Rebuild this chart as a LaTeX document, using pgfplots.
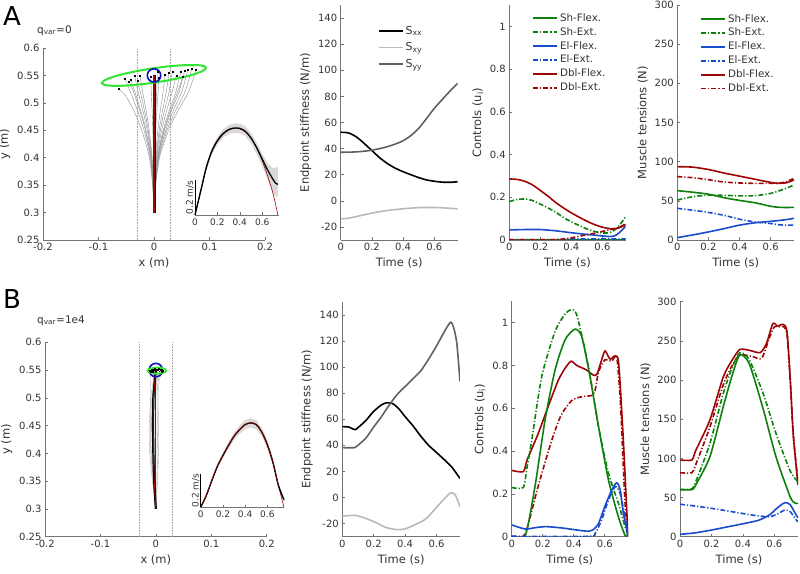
\documentclass[border=0pt]{standalone}
\usepackage{pgfplots}
\pgfplotsset{compat=1.18}
\usepackage{fontspec}
\setmainfont{DejaVu Sans}
\definecolor{cgreen}{rgb}{0.05,0.5,0.05}
\definecolor{cblue}{rgb}{0.1,0.3,0.8}
\definecolor{cred}{rgb}{0.62,0.02,0.02}
\definecolor{egreen}{rgb}{0.2,0.9,0.2}
\definecolor{eblue}{rgb}{0.05,0.05,0.75}
\definecolor{axgray}{gray}{0.45}
\definecolor{txgray}{gray}{0.2}
\pgfplotsset{
  myax/.style={
    scale only axis, anchor=south west,
    axis x line*=bottom, axis y line*=left,
    axis line style={draw=axgray, line width=0.6pt},
    tick align=inside, major tick length=3pt,
    tick style={draw=axgray, line width=0.5pt},
    tick label style={font=\fontsize{10}{12}\selectfont, text=txgray},
    label style={font=\fontsize{11.5}{13}\selectfont, text=txgray},
    /pgf/number format/assume math mode=true,
    legend cell align=left,
    legend style={draw=none, fill=none, font=\fontsize{10.3}{12}\selectfont, text=txgray, anchor=north west, inner sep=0pt, row sep=0.6pt},
    legend image code/.code={\draw[mark repeat=2,mark phase=2,##1] plot coordinates {(0pt,0pt) (12pt,0pt) (24pt,0pt)};},
  },
  inax/.style={
    scale only axis, anchor=south west, clip=false,
    axis x line*=bottom, axis y line=none,
    axis line style={draw=axgray, line width=0.5pt},
    tick align=inside, major tick length=2.5pt,
    tick style={draw=axgray, line width=0.5pt},
    tick label style={font=\fontsize{9}{10}\selectfont, text=txgray},
    /pgf/number format/assume math mode=true,
    xmin=0, xmax=0.75, ymin=0, ymax=0.55, xtick={0,0.2,0.4,0.6},
  },
  traj/.style={black!45, line width=0.4pt, smooth},
  sflex/.style={color=cgreen, line width=1.6pt, smooth, tension=0.4},
  sext/.style={color=cgreen, line width=1.6pt, smooth, tension=0.4, dash pattern=on 5pt off 2pt on 1.2pt off 2pt},
  eflex/.style={color=cblue, line width=1.6pt, smooth, tension=0.4},
  eext/.style={color=cblue, line width=1.6pt, smooth, tension=0.4, dash pattern=on 5pt off 2pt on 1.2pt off 2pt},
  dflex/.style={color=cred, line width=1.6pt, smooth, tension=0.4},
  dext/.style={color=cred, line width=1.6pt, smooth, tension=0.4, dash pattern=on 5pt off 2pt on 1.2pt off 2pt},
}
\newcommand{\muscleleg}{%
  \addlegendimage{color=cgreen, line width=1.9pt}\addlegendentry{Sh-Flex.}
  \addlegendimage{color=cgreen, line width=1.9pt, dash pattern=on 5pt off 2pt on 1.2pt off 2pt}\addlegendentry{Sh-Ext.}
  \addlegendimage{color=cblue, line width=1.9pt}\addlegendentry{El-Flex.}
  \addlegendimage{color=cblue, line width=1.9pt, dash pattern=on 5pt off 2pt on 1.2pt off 2pt}\addlegendentry{El-Ext.}
  \addlegendimage{color=cred, line width=1.9pt}\addlegendentry{Dbl-Flex.}
  \addlegendimage{color=cred, line width=1.9pt, dash pattern=on 5pt off 2pt on 1.2pt off 2pt}\addlegendentry{Dbl-Ext.}
}
\begin{document}
\begin{tikzpicture}
\useasboundingbox (0pt,0pt) rectangle (800pt,573pt);
\node[anchor=north west, inner sep=0pt, font=\fontsize{26}{26}\selectfont] at (3pt,566.5pt) {A};
\node[anchor=north west, inner sep=0pt, font=\fontsize{26}{26}\selectfont] at (3pt,283.5pt) {B};
\node[anchor=base west, inner sep=0pt, font=\fontsize{10.5}{12}\selectfont, text=txgray] at (37pt,539.7pt) {q\textsubscript{var}=0};
\node[anchor=base west, inner sep=0pt, font=\fontsize{10.5}{12}\selectfont, text=txgray] at (37pt,249.7pt) {q\textsubscript{var}=1e4};

% ================= A: trajectories =================
\begin{axis}[myax, at={(43pt,333pt)}, width=222pt, height=192pt,
  xmin=-0.2, xmax=0.2, ymin=0.25, ymax=0.6,
  xtick={-0.2,-0.1,0,0.1,0.2}, ytick={0.25,0.3,0.35,0.4,0.45,0.5,0.55,0.6},
  xlabel={x (m)}, ylabel={y (m)}]
\addplot[gray!70, densely dotted, line width=0.6pt] coordinates {(-0.03,0.25)(-0.03,0.6)};
\addplot[gray!70, densely dotted, line width=0.6pt] coordinates {(0.03,0.25)(0.03,0.6)};
\addplot[traj] coordinates {(0,0.3)(-0.0026,0.35)(-0.0083,0.4)(-0.016,0.43)(-0.0256,0.46)(-0.0384,0.49)(-0.0525,0.515)(-0.064,0.525)};
\addplot[traj] coordinates {(0,0.3)(-0.0021,0.35)(-0.0068,0.4)(-0.013,0.43)(-0.0208,0.46)(-0.0312,0.49)(-0.0426,0.52)(-0.052,0.544)};
\addplot[traj] coordinates {(0,0.3)(-0.0018,0.35)(-0.0059,0.4)(-0.0113,0.43)(-0.018,0.46)(-0.027,0.49)(-0.0369,0.52)(-0.045,0.538)};
\addplot[traj] coordinates {(0,0.3)(-0.0017,0.35)(-0.0055,0.4)(-0.0105,0.43)(-0.0168,0.46)(-0.0252,0.49)(-0.0344,0.52)(-0.042,0.542)};
\addplot[traj] coordinates {(0,0.3)(-0.0014,0.35)(-0.0046,0.4)(-0.0088,0.43)(-0.014,0.46)(-0.021,0.49)(-0.0287,0.52)(-0.035,0.550)};
\addplot[traj] coordinates {(0,0.3)(-0.0012,0.35)(-0.0039,0.4)(-0.0075,0.43)(-0.012,0.46)(-0.018,0.49)(-0.0246,0.52)(-0.030,0.540)};
\addplot[traj] coordinates {(0,0.3)(-0.001,0.35)(-0.0033,0.4)(-0.0063,0.43)(-0.01,0.46)(-0.015,0.49)(-0.0205,0.52)(-0.025,0.549)};
\addplot[traj] coordinates {(0,0.3)(-0.0002,0.35)(-0.0008,0.4)(-0.0015,0.43)(-0.0024,0.46)(-0.0036,0.49)(-0.0049,0.52)(-0.006,0.547)};
\addplot[traj] coordinates {(0,0.3)(0.0002,0.35)(0.0008,0.4)(0.0015,0.43)(0.0024,0.46)(0.0036,0.49)(0.0049,0.52)(0.006,0.556)};
\addplot[traj] coordinates {(0,0.3)(0.0004,0.35)(0.0012,0.4)(0.0023,0.43)(0.0036,0.46)(0.0054,0.49)(0.0074,0.52)(0.009,0.546)};
\addplot[traj] coordinates {(0,0.3)(0.0011,0.35)(0.0035,0.4)(0.0068,0.43)(0.0108,0.46)(0.0162,0.49)(0.0221,0.52)(0.027,0.555)};
\addplot[traj] coordinates {(0,0.3)(0.0013,0.35)(0.0043,0.4)(0.0083,0.43)(0.0132,0.46)(0.0198,0.49)(0.0271,0.52)(0.033,0.557)};
\addplot[traj] coordinates {(0,0.3)(0.0016,0.35)(0.0052,0.4)(0.01,0.43)(0.016,0.46)(0.024,0.49)(0.0328,0.52)(0.040,0.549)};
\addplot[traj] coordinates {(0,0.3)(0.0019,0.35)(0.0062,0.4)(0.012,0.43)(0.0192,0.46)(0.0288,0.49)(0.0394,0.52)(0.048,0.557)};
\addplot[traj] coordinates {(0,0.3)(0.0022,0.35)(0.0072,0.4)(0.0138,0.43)(0.022,0.46)(0.033,0.49)(0.0451,0.52)(0.055,0.558)};
\addplot[traj] coordinates {(0,0.3)(0.0024,0.35)(0.0079,0.4)(0.0153,0.43)(0.0244,0.46)(0.0366,0.49)(0.05,0.52)(0.061,0.560)};
\addplot[traj] coordinates {(0,0.3)(0.0027,0.35)(0.0088,0.4)(0.017,0.43)(0.0272,0.46)(0.0408,0.49)(0.0558,0.52)(0.068,0.562)};
\addplot[traj] coordinates {(0,0.3)(0.003,0.35)(0.0099,0.4)(0.019,0.43)(0.0304,0.46)(0.0456,0.49)(0.0623,0.52)(0.076,0.561)};
\addplot[traj] coordinates {(0,0.3)(0.0021,0.35)(0.0068,0.4)(0.013,0.43)(0.0208,0.46)(0.0312,0.49)(0.0426,0.52)(0.052,0.548)};
\addplot[traj] coordinates {(0,0.3)(0.0008,0.35)(0.0026,0.4)(0.005,0.43)(0.008,0.46)(0.012,0.49)(0.0164,0.52)(0.020,0.552)};
\addplot[black, line width=3pt] coordinates {(0,0.3)(0,0.55)};
\addplot[cred, line width=1.2pt] coordinates {(0,0.3)(0,0.55)};
\addplot[only marks, mark=square*, mark size=0.5pt, black] coordinates {(-0.064,0.525)(-0.052,0.544)(-0.045,0.538)(-0.042,0.542)(-0.035,0.550)(-0.030,0.540)(-0.025,0.549)(-0.006,0.547)(0.006,0.556)(0.009,0.546)(0.027,0.555)(0.033,0.557)(0.040,0.549)(0.048,0.557)(0.055,0.558)(0.061,0.560)(0.068,0.562)(0.076,0.561)(0.052,0.548)(0.020,0.552)};
\addplot[egreen, line width=2pt, smooth] coordinates {(0.0940,0.5641)(0.0903,0.5669)(0.0804,0.5686)(0.0651,0.5690)(0.0453,0.5682)(0.0225,0.5661)(-0.0019,0.5629)(-0.0262,0.5588)(-0.0486,0.5541)(-0.0678,0.5492)(-0.0823,0.5443)(-0.0913,0.5397)(-0.0940,0.5359)(-0.0903,0.5331)(-0.0804,0.5314)(-0.0651,0.5310)(-0.0453,0.5318)(-0.0225,0.5339)(0.0019,0.5371)(0.0262,0.5412)(0.0486,0.5459)(0.0678,0.5508)(0.0823,0.5557)(0.0913,0.5603)(0.0940,0.5641)};
\addplot[eblue, line width=1.6pt, smooth] coordinates {(0.012,0.55)(0.0116,0.5531)(0.0104,0.556)(0.0085,0.5585)(0.006,0.5604)(0.0031,0.5616)(0,0.562)(-0.0031,0.5616)(-0.006,0.5604)(-0.0085,0.5585)(-0.0104,0.556)(-0.0116,0.5531)(-0.012,0.55)(-0.0116,0.5469)(-0.0104,0.544)(-0.0085,0.5415)(-0.006,0.5396)(-0.0031,0.5384)(0,0.538)(0.0031,0.5384)(0.006,0.5396)(0.0085,0.5415)(0.0104,0.544)(0.0116,0.5469)(0.012,0.55)};
\end{axis}
% inset A
\begin{axis}[inax, at={(195pt,358pt)}, width=84pt, height=96.25pt]
\addplot[fill=gray!30, draw=none] coordinates {(0,0.005)(0.05,0.15)(0.1,0.29)(0.15,0.385)(0.2,0.447)(0.25,0.488)(0.3,0.513)(0.35,0.524)(0.4,0.522)(0.45,0.506)(0.5,0.47)(0.55,0.415)(0.6,0.35)(0.65,0.295)(0.7,0.265)(0.72,0.27)(0.74,0.275)(0.74,0.10)(0.7,0.12)(0.65,0.2)(0.6,0.28)(0.55,0.35)(0.5,0.41)(0.45,0.45)(0.4,0.468)(0.35,0.47)(0.3,0.463)(0.25,0.442)(0.2,0.403)(0.15,0.345)(0.1,0.25)(0.05,0.12)(0,0)};
\addplot[cred, line width=0.6pt, smooth] coordinates {(0,0)(0.05,0.13)(0.1,0.265)(0.15,0.36)(0.2,0.42)(0.25,0.46)(0.3,0.485)(0.35,0.495)(0.4,0.492)(0.45,0.475)(0.5,0.44)(0.55,0.385)(0.6,0.31)(0.65,0.22)(0.7,0.115)(0.74,0)};
\addplot[black, line width=1.3pt, smooth] coordinates {(0,0)(0.05,0.135)(0.1,0.27)(0.15,0.365)(0.2,0.425)(0.25,0.465)(0.3,0.488)(0.35,0.497)(0.4,0.495)(0.45,0.478)(0.5,0.44)(0.55,0.385)(0.6,0.32)(0.65,0.255)(0.7,0.2)(0.72,0.182)(0.74,0.175)};
\addplot[black, line width=0.6pt] coordinates {(0,0)(0,0.2)};
\node[rotate=90, anchor=south, inner sep=1pt, font=\fontsize{9}{10}\selectfont, text=txgray] at (axis cs:0,0.1) {0.2 m/s};
\end{axis}

% ================= A: stiffness =================
\begin{axis}[myax, at={(340.7pt,333pt)}, width=117pt, height=235pt,
  xmin=0, xmax=0.75, ymin=-30, ymax=150,
  xtick={0,0.2,0.4,0.6}, ytick={-20,0,20,40,60,80,100,120,140},
  xlabel={Time (s)}, ylabel={Endpoint stiffness (N/m)},
  legend style={at={(0.315,0.92)}, font=\fontsize{11}{13}\selectfont, row sep=3pt}]
\addlegendimage{color=black, line width=1.9pt}\addlegendentry{S\textsubscript{xx}}
\addlegendimage{color=gray!55, line width=1.9pt}\addlegendentry{S\textsubscript{xy}}
\addlegendimage{color=black!62, line width=1.9pt}\addlegendentry{S\textsubscript{yy}}
\addplot[forget plot, black, line width=1.6pt, smooth] coordinates {(0,52.5)(0.05,52)(0.1,49)(0.15,44)(0.2,38.5)(0.25,33)(0.3,28.5)(0.35,25)(0.4,22.3)(0.45,20)(0.5,17.8)(0.55,16)(0.6,15)(0.65,14.3)(0.7,14.2)(0.75,14.6)};
\addplot[forget plot, gray!55, line width=1.6pt, smooth] coordinates {(0,-13.8)(0.05,-13.3)(0.1,-12)(0.15,-10.7)(0.2,-9.4)(0.25,-8.3)(0.3,-7.4)(0.35,-6.7)(0.4,-6.1)(0.45,-5.6)(0.5,-5.2)(0.55,-5.1)(0.6,-5.1)(0.65,-5.3)(0.7,-5.7)(0.75,-6.1)};
\addplot[forget plot, black!62, line width=1.6pt, smooth] coordinates {(0,37.2)(0.05,37.3)(0.1,37.5)(0.15,38)(0.2,38.8)(0.25,40)(0.3,41.5)(0.35,43.5)(0.4,46)(0.45,50)(0.5,55.5)(0.55,63)(0.6,70.8)(0.65,77.5)(0.7,84)(0.75,90)};
\end{axis}

% ================= A: controls =================
\begin{axis}[myax, at={(509.3pt,333pt)}, width=116.4pt, height=234.7pt,
  xmin=0, xmax=0.75, ymin=0, ymax=1.1,
  xtick={0,0.2,0.4,0.6}, ytick={0,0.2,0.4,0.6,0.8,1},
  xlabel={Time (s)}, ylabel={Controls (u\textsubscript{i})},
  legend style={at={(0.195,0.975)}}]
\muscleleg
\addplot[forget plot, sflex] coordinates {(0,0.002)(0.375,0.002)(0.75,0.002)};
\addplot[forget plot, sext] coordinates {(0,0.18)(0.05,0.19)(0.1,0.192)(0.15,0.185)(0.2,0.168)(0.25,0.15)(0.3,0.13)(0.35,0.105)(0.4,0.085)(0.45,0.068)(0.5,0.052)(0.55,0.04)(0.6,0.033)(0.65,0.035)(0.7,0.06)(0.75,0.11)};
\addplot[forget plot, eflex] coordinates {(0,0.047)(0.1,0.049)(0.2,0.049)(0.3,0.043)(0.4,0.034)(0.5,0.026)(0.55,0.023)(0.6,0.019)(0.65,0.016)(0.68,0.02)(0.71,0.035)(0.75,0.065)};
\addplot[forget plot, eext] coordinates {(0,0.002)(0.3,0.002)(0.4,0.005)(0.6,0.005)(0.75,0.005)};
\addplot[forget plot, dflex] coordinates {(0,0.286)(0.05,0.284)(0.1,0.275)(0.15,0.258)(0.2,0.232)(0.25,0.205)(0.3,0.175)(0.35,0.15)(0.4,0.127)(0.45,0.107)(0.5,0.088)(0.55,0.072)(0.6,0.06)(0.65,0.053)(0.7,0.055)(0.75,0.072)};
\addplot[forget plot, dext] coordinates {(0,0.002)(0.3,0.002)(0.35,0.005)(0.4,0.01)(0.45,0.018)(0.5,0.025)(0.55,0.032)(0.6,0.04)(0.65,0.048)(0.7,0.058)(0.75,0.075)};
\end{axis}

% ================= A: tensions =================
\begin{axis}[myax, at={(677.3pt,333pt)}, width=116.7pt, height=235pt,
  xmin=0, xmax=0.75, ymin=0, ymax=300,
  xtick={0,0.2,0.4,0.6}, ytick={0,50,100,150,200,250,300},
  xlabel={Time (s)}, ylabel={Muscle tensions (N)},
  legend style={at={(0.195,0.97)}}]
\muscleleg
\addplot[forget plot, sflex] coordinates {(0,63)(0.1,61)(0.2,58.5)(0.3,54)(0.4,50.5)(0.5,47.5)(0.6,43)(0.65,41.8)(0.7,41.5)(0.75,41.7)};
\addplot[forget plot, sext] coordinates {(0,51)(0.1,55.3)(0.2,57.2)(0.3,57)(0.4,56.3)(0.5,56.5)(0.6,59.5)(0.65,62.5)(0.7,66)(0.75,70.2)};
\addplot[forget plot, eflex] coordinates {(0,3)(0.1,6.5)(0.2,10.3)(0.3,14.5)(0.4,19)(0.5,22)(0.6,23.8)(0.7,26)(0.75,27.7)};
\addplot[forget plot, eext] coordinates {(0,40.4)(0.1,38)(0.2,35.2)(0.3,31.5)(0.4,26.5)(0.5,23)(0.6,21)(0.65,19.5)(0.7,19)(0.75,19.1)};
\addplot[forget plot, dflex] coordinates {(0,93.6)(0.1,93)(0.2,90)(0.3,85.5)(0.4,81.5)(0.5,77.5)(0.6,73.5)(0.65,72.3)(0.7,73)(0.75,76.6)};
\addplot[forget plot, dext] coordinates {(0,80.9)(0.1,79.5)(0.2,77)(0.3,74)(0.4,72.8)(0.5,72.3)(0.6,72.3)(0.65,72.5)(0.7,74.5)(0.75,78.7)};
\end{axis}

% ================= B: trajectories =================
\begin{axis}[myax, at={(45pt,36.3pt)}, width=221.7pt, height=194.4pt,
  xmin=-0.2, xmax=0.2, ymin=0.25, ymax=0.6,
  xtick={-0.2,-0.1,0,0.1,0.2}, ytick={0.25,0.3,0.35,0.4,0.45,0.5,0.55,0.6},
  xlabel={x (m)}, ylabel={y (m)}]
\addplot[gray!70, densely dotted, line width=0.6pt] coordinates {(-0.03,0.25)(-0.03,0.6)};
\addplot[gray!70, densely dotted, line width=0.6pt] coordinates {(0.03,0.25)(0.03,0.6)};
\addplot[traj, black!30] coordinates {(0,0.3)(-0.006,0.35)(-0.011,0.4)(-0.012,0.45)(-0.009,0.5)(-0.005,0.53)(-0.003,0.55)};
\addplot[traj, black!30] coordinates {(0,0.3)(-0.005,0.35)(-0.009,0.4)(-0.010,0.45)(-0.007,0.5)(-0.003,0.53)(0.0,0.55)};
\addplot[traj, black!30] coordinates {(0,0.3)(-0.003,0.35)(-0.006,0.4)(-0.007,0.45)(-0.006,0.5)(-0.002,0.53)(0.002,0.55)};
\addplot[traj, black!30] coordinates {(0,0.3)(-0.002,0.35)(-0.003,0.4)(-0.004,0.45)(-0.003,0.5)(0.0,0.53)(0.004,0.551)};
\addplot[traj, black!30] coordinates {(0,0.3)(0.0,0.35)(0.0,0.4)(0.0,0.45)(0.0,0.5)(0.002,0.53)(0.006,0.548)};
\addplot[traj, black!30] coordinates {(0,0.3)(0.002,0.35)(0.003,0.4)(0.003,0.45)(0.002,0.5)(0.004,0.53)(0.008,0.55)};
\addplot[traj, black!30] coordinates {(0,0.3)(-0.004,0.35)(-0.008,0.4)(-0.009,0.45)(-0.004,0.5)(0.001,0.53)(0.010,0.551)};
\addplot[traj, black!30] coordinates {(0,0.3)(0.003,0.35)(0.005,0.4)(0.005,0.45)(0.004,0.5)(0.006,0.53)(0.012,0.549)};
\addplot[traj, black!30] coordinates {(0,0.3)(-0.001,0.35)(-0.004,0.4)(-0.006,0.45)(-0.005,0.5)(-0.004,0.53)(-0.008,0.551)};
\addplot[traj, black!30] coordinates {(0,0.3)(-0.002,0.35)(-0.005,0.4)(-0.008,0.45)(-0.010,0.5)(-0.010,0.53)(-0.011,0.549)};
\addplot[cred, line width=1pt] coordinates {(0,0.3)(0,0.55)};
\addplot[black, line width=2.2pt, smooth] coordinates {(0,0.3)(-0.003,0.35)(-0.0045,0.4)(-0.005,0.45)(-0.0045,0.5)(-0.002,0.53)(0.0,0.55)};
\addplot[cred, line width=0.9pt, smooth] coordinates {(0,0.3)(-0.0028,0.35)(-0.0042,0.4)(-0.0047,0.45)(-0.0042,0.5)(-0.0018,0.53)(0.0,0.55)};
\addplot[eblue, line width=1.6pt, smooth] coordinates {(0.012,0.55)(0.0116,0.5531)(0.0104,0.556)(0.0085,0.5585)(0.006,0.5604)(0.0031,0.5616)(0,0.562)(-0.0031,0.5616)(-0.006,0.5604)(-0.0085,0.5585)(-0.0104,0.556)(-0.0116,0.5531)(-0.012,0.55)(-0.0116,0.5469)(-0.0104,0.544)(-0.0085,0.5415)(-0.006,0.5396)(-0.0031,0.5384)(0,0.538)(0.0031,0.5384)(0.006,0.5396)(0.0085,0.5415)(0.0104,0.544)(0.0116,0.5469)(0.012,0.55)};
\addplot[egreen, line width=1.8pt, smooth] coordinates {(0.019,0.549)(0.0167,0.5518)(0.0105,0.5536)(0.002,0.5545)(-0.0065,0.5536)(-0.0127,0.5518)(-0.015,0.549)(-0.0127,0.5462)(-0.0065,0.5444)(0.002,0.5435)(0.0105,0.5444)(0.0167,0.5462)(0.019,0.549)};
\addplot[only marks, mark=square*, mark size=0.45pt, black] coordinates {(-0.011,0.549)(-0.008,0.551)(-0.006,0.547)(-0.004,0.550)(-0.002,0.552)(0.0,0.548)(0.002,0.550)(0.004,0.551)(0.006,0.548)(0.008,0.550)(0.010,0.551)(0.012,0.549)(-0.009,0.547)(0.005,0.553)(0.011,0.547)};
\end{axis}
% inset B
\begin{axis}[inax, at={(200.7pt,65.7pt)}, width=83.3pt, height=91.9pt]
\addplot[fill=gray!30, draw=none] coordinates {(0,0.005)(0.05,0.08)(0.1,0.172)(0.15,0.26)(0.2,0.327)(0.25,0.39)(0.3,0.447)(0.35,0.49)(0.4,0.522)(0.45,0.533)(0.5,0.522)(0.55,0.476)(0.6,0.4)(0.65,0.292)(0.7,0.148)(0.75,0.06)(0.75,0.03)(0.7,0.112)(0.65,0.248)(0.6,0.35)(0.55,0.424)(0.5,0.468)(0.45,0.477)(0.4,0.468)(0.35,0.44)(0.3,0.403)(0.25,0.35)(0.2,0.293)(0.15,0.23)(0.1,0.148)(0.05,0.06)(0,0)};
\addplot[cred, line width=0.6pt, smooth] coordinates {(0,0)(0.05,0.07)(0.1,0.16)(0.15,0.245)(0.2,0.31)(0.25,0.37)(0.3,0.425)(0.35,0.465)(0.4,0.495)(0.45,0.505)(0.5,0.495)(0.55,0.45)(0.6,0.375)(0.65,0.27)(0.7,0.13)(0.75,0)};
\addplot[black, line width=1.3pt, smooth] coordinates {(0,0)(0.05,0.07)(0.1,0.16)(0.15,0.245)(0.2,0.31)(0.25,0.37)(0.3,0.425)(0.35,0.465)(0.4,0.495)(0.45,0.505)(0.5,0.495)(0.55,0.45)(0.6,0.375)(0.65,0.27)(0.7,0.13)(0.75,0.045)};
\addplot[cred, line width=0.5pt, smooth] coordinates {(0,0)(0.05,0.07)(0.1,0.16)(0.15,0.245)(0.2,0.31)(0.25,0.37)(0.3,0.425)(0.35,0.465)(0.4,0.495)(0.45,0.505)(0.5,0.495)(0.55,0.45)(0.6,0.375)(0.65,0.27)(0.7,0.13)};
\addplot[black, line width=0.6pt] coordinates {(0,0)(0,0.2)};
\node[rotate=90, anchor=south, inner sep=1pt, font=\fontsize{9}{10}\selectfont, text=txgray] at (axis cs:0,0.1) {0.2 m/s};
\end{axis}

% ================= B: stiffness =================
\begin{axis}[myax, at={(342.3pt,36.3pt)}, width=117.7pt, height=235pt,
  xmin=0, xmax=0.75, ymin=-30, ymax=150,
  xtick={0,0.2,0.4,0.6}, ytick={-20,0,20,40,60,80,100,120,140},
  xlabel={Time (s)}, ylabel={Endpoint stiffness (N/m)}]
\addplot[black, line width=1.6pt, smooth, tension=0.4] coordinates {(0,54.3)(0.04,54)(0.08,52)(0.1,53.5)(0.15,59)(0.2,66)(0.25,71)(0.28,72.5)(0.32,72)(0.36,68)(0.4,62)(0.45,55)(0.5,47)(0.55,40)(0.6,34.5)(0.65,29)(0.7,23)(0.75,14.6)};
\addplot[gray!55, line width=1.6pt, smooth, tension=0.4] coordinates {(0,-14.3)(0.08,-13.6)(0.15,-16)(0.22,-19.5)(0.28,-23)(0.35,-24.6)(0.4,-24)(0.45,-21.5)(0.52,-17.4)(0.56,-13)(0.6,-7.5)(0.65,-1)(0.69,3.6)(0.72,2)(0.75,-7)};
\addplot[black!62, line width=1.6pt, smooth, tension=0.4] coordinates {(0,38.2)(0.08,38.2)(0.1,40)(0.15,45.5)(0.2,54)(0.25,62)(0.3,71)(0.35,79)(0.4,85)(0.45,91)(0.5,97)(0.55,106)(0.6,116)(0.65,127)(0.69,134.3)(0.71,130)(0.73,118)(0.75,89)};
\end{axis}

% ================= B: controls =================
\begin{axis}[myax, at={(511.7pt,36.3pt)}, width=116.3pt, height=235.4pt,
  xmin=0, xmax=0.75, ymin=0, ymax=1.1,
  xtick={0,0.2,0.4,0.6}, ytick={0,0.2,0.4,0.6,0.8,1},
  xlabel={Time (s)}, ylabel={Controls (u\textsubscript{i})}]
\addplot[dext] coordinates {(0,0.002)(0.075,0.002)(0.1,0.04)(0.17,0.234)(0.258,0.45)(0.32,0.57)(0.387,0.636)(0.45,0.654)(0.516,0.66)(0.538,0.685)(0.56,0.77)(0.6,0.826)(0.645,0.82)(0.677,0.84)(0.70,0.64)(0.73,0.17)(0.75,0.0)};
\addplot[dflex] coordinates {(0,0.31)(0.075,0.304)(0.1,0.36)(0.17,0.48)(0.236,0.61)(0.3,0.73)(0.344,0.787)(0.383,0.82)(0.42,0.80)(0.48,0.78)(0.527,0.755)(0.55,0.76)(0.58,0.826)(0.602,0.868)(0.634,0.83)(0.667,0.845)(0.69,0.81)(0.72,0.45)(0.75,0.0)};
\addplot[sext] coordinates {(0,0.23)(0.075,0.23)(0.1,0.33)(0.129,0.45)(0.194,0.75)(0.28,0.96)(0.344,1.04)(0.383,1.06)(0.42,1.036)(0.495,0.794)(0.56,0.514)(0.624,0.296)(0.688,0.156)(0.731,0.047)(0.75,0.008)};
\addplot[sflex] coordinates {(0,0.002)(0.086,0.002)(0.15,0.234)(0.215,0.545)(0.28,0.78)(0.344,0.92)(0.408,0.97)(0.452,0.935)(0.505,0.748)(0.56,0.514)(0.624,0.265)(0.688,0.093)(0.73,0.008)(0.75,0.002)};
\addplot[eext] coordinates {(0,0.002)(0.495,0.002)(0.538,0.016)(0.58,0.078)(0.624,0.171)(0.667,0.234)(0.70,0.2)(0.73,0.093)(0.75,0.016)};
\addplot[eflex] coordinates {(0,0.055)(0.086,0.036)(0.15,0.042)(0.215,0.047)(0.28,0.044)(0.344,0.039)(0.452,0.028)(0.5,0.026)(0.53,0.035)(0.56,0.062)(0.6,0.14)(0.645,0.218)(0.677,0.252)(0.70,0.218)(0.72,0.109)(0.75,0.005)};
\end{axis}

% ================= B: tensions =================
\begin{axis}[myax, at={(680pt,36.3pt)}, width=118pt, height=235pt,
  xmin=0, xmax=0.75, ymin=0, ymax=300,
  xtick={0,0.2,0.4,0.6}, ytick={0,50,100,150,200,250,300},
  xlabel={Time (s)}, ylabel={Muscle tensions (N)}]
\addplot[dext] coordinates {(0,81.7)(0.075,81.7)(0.1,92)(0.19,140)(0.275,194)(0.33,218)(0.38,232)(0.46,230)(0.52,228)(0.57,255)(0.6,268)(0.63,268)(0.66,268)(0.68,258)(0.70,200)(0.72,130)(0.75,70)};
\addplot[dflex] coordinates {(0,97.9)(0.075,97.9)(0.1,110)(0.19,149)(0.275,204)(0.33,225)(0.38,239)(0.44,238)(0.51,235)(0.55,247)(0.59,272)(0.62,269)(0.657,271)(0.68,262)(0.70,204)(0.72,130)(0.75,66)};
\addplot[sext] coordinates {(0,60.4)(0.075,61)(0.1,70)(0.19,119)(0.275,183)(0.33,215)(0.38,235)(0.44,226)(0.53,182)(0.61,132)(0.70,84)(0.75,70)};
\addplot[sflex] coordinates {(0,60)(0.075,60)(0.1,66)(0.19,102)(0.275,166)(0.33,205)(0.38,232)(0.44,221)(0.53,162)(0.61,102)(0.70,51)(0.73,43)(0.75,42.6)};
\addplot[eext] coordinates {(0,41.5)(0.1,39)(0.2,36.2)(0.3,33)(0.4,29.5)(0.5,26.5)(0.57,25.5)(0.62,29)(0.665,34)(0.70,32)(0.74,21)(0.75,19)};
\addplot[eflex] coordinates {(0,3)(0.1,5)(0.2,8.5)(0.3,12.5)(0.4,16.5)(0.5,21)(0.57,28)(0.62,37)(0.665,43.4)(0.70,41)(0.74,27)(0.75,24)};
\end{axis}
\end{tikzpicture}
\end{document}
